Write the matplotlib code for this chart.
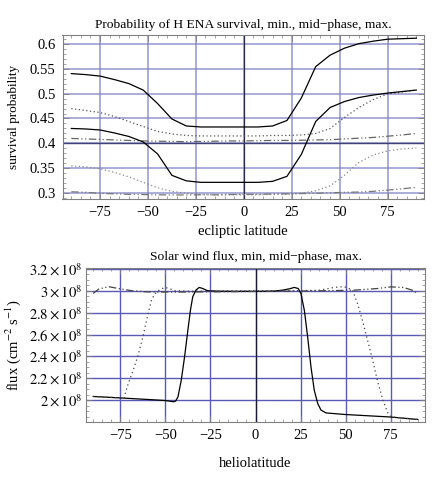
import matplotlib
matplotlib.use("Agg")
import matplotlib.pyplot as plt
from matplotlib.ticker import FixedLocator, MultipleLocator, FuncFormatter

plt.rcParams['font.family'] = ['Liberation Serif', 'DejaVu Serif']
plt.rcParams['mathtext.fontset'] = 'stix'

# --- top panel: survival probability vs ecliptic latitude (7.5 deg steps)
lat = [-90, -82.5, -75, -67.5, -60, -52.5, -45, -37.5, -30, -22.5, -15, -7.5, 0,
       7.5, 15, 22.5, 30, 37.5, 45, 52.5, 60, 67.5, 75, 82.5, 90]

surv_hi_min = [0.540, 0.538, 0.535, 0.528, 0.520, 0.507, 0.480, 0.449, 0.435, 0.433, 0.433, 0.433, 0.433,
               0.433, 0.435, 0.446, 0.491, 0.554, 0.577, 0.591, 0.600, 0.605, 0.609, 0.610, 0.611]
surv_hi_mid = [0.470, 0.466, 0.462, 0.454, 0.444, 0.434, 0.424, 0.419, 0.416, 0.415, 0.415, 0.415, 0.415,
               0.415, 0.416, 0.416, 0.417, 0.420, 0.430, 0.452, 0.472, 0.488, 0.499, 0.503, 0.507]
surv_hi_max = [0.410, 0.409, 0.408, 0.407, 0.406, 0.405, 0.4045, 0.404, 0.4035, 0.404, 0.4045, 0.405, 0.405,
               0.4055, 0.406, 0.406, 0.4065, 0.407, 0.4075, 0.409, 0.4105, 0.412, 0.4145, 0.417, 0.420]
surv_lo_min = [0.430, 0.429, 0.427, 0.421, 0.414, 0.403, 0.379, 0.336, 0.325, 0.322, 0.322, 0.322, 0.322,
               0.322, 0.324, 0.334, 0.378, 0.444, 0.472, 0.484, 0.492, 0.497, 0.501, 0.504, 0.507]
surv_lo_mid = [0.355, 0.353, 0.349, 0.342, 0.333, 0.322, 0.311, 0.304, 0.300, 0.298, 0.297, 0.297, 0.297,
               0.297, 0.298, 0.298, 0.300, 0.305, 0.315, 0.336, 0.362, 0.377, 0.385, 0.389, 0.391]
surv_lo_max = [0.303, 0.302, 0.300, 0.299, 0.298, 0.2975, 0.297, 0.2968, 0.2966, 0.297, 0.297, 0.2975, 0.298,
               0.298, 0.2985, 0.299, 0.2995, 0.300, 0.301, 0.302, 0.3025, 0.304, 0.3065, 0.309, 0.312]

# --- bottom panel: solar wind flux (units of 1e8 cm^-2 s^-1)
min_lat = [-90, -75, -60, -50, -47, -45.5, -44.3, -43, -41.2, -39.3, -37.5, -36.1, -34.8, -33, -31.2, -29.3,
           -26.6, -20, -10, 0, 10, 15, 19, 21.5, 23.7, 25.2, 27.1, 28.9, 30.8, 32.6, 34.5, 36.3, 39.1,
           49.2, 60, 74.4, 90]
min_flux = [2.034, 2.021, 2.007, 1.997, 1.99, 1.986, 1.992, 2.03, 2.18, 2.40, 2.64, 2.82, 2.945, 3.006,
            3.03, 3.02, 3.0, 2.995, 2.994, 2.994, 2.996, 3.005, 3.018, 3.03, 3.02, 2.975, 2.82, 2.58,
            2.30, 2.09, 1.97, 1.91, 1.884, 1.87, 1.86, 1.847, 1.824]

mid_lat = [-90, -75, -73, -70.6, -67.9, -65.1, -62.3, -59.6, -57.7, -55.9, -54, -50.4, -47.7, -44.9,
           -35, -20, 0, 20, 35, 43.6, 49.2, 53.8, 56.6, 59.3, 62.1, 64.9, 67.6, 70.4, 73.2, 75, 76, 90]
mid_flux = [2.034, 2.021, 2.02, 2.15, 2.27, 2.41, 2.59, 2.79, 2.915, 2.97, 3.0, 3.03, 3.02, 3.0,
            2.995, 2.998, 3.0, 3.0, 3.003, 3.03, 3.037, 3.006, 2.88, 2.73, 2.55, 2.37, 2.18, 2.015,
            1.89, 1.85, 1.847, 1.824]

max_lat = [-90, -87, -81.5, -76, -68.7, -61.3, -54, -40, -20, 0, 20, 40, 55, 67.6, 75, 82, 86.7, 89.5, 90]
max_flux = [2.975, 3.015, 3.037, 3.02, 3.0, 2.99, 2.988, 2.988, 2.99, 2.993, 2.996, 3.0, 3.005, 3.02,
            3.035, 3.03, 3.006, 2.98, 2.975]

xticks = [-75, -50, -25, 0, 25, 50, 75]

grid_col = '#7c7cc4'
frame_col = '#808080'


def fmt_num(v, pos=None):
    return ('%g' % v).replace('-', '\u2212')


def style_frame(ax):
    for s in ax.spines.values():
        s.set_color(frame_col)
        s.set_linewidth(0.8)
    ax.tick_params(which='both', direction='in', top=True, right=True,
                   color=frame_col, labelsize=10.5)
    ax.tick_params(which='major', length=4, width=0.6, pad=5)
    ax.tick_params(which='minor', length=2, width=0.5)


fig = plt.figure(figsize=(4.36, 4.8), dpi=100)

# top panel
ax1 = fig.add_axes([62.5 / 436, 1 - 199 / 480, 361.5 / 436, 164.3 / 480])
ax1.plot(lat, surv_hi_min, color='black', lw=0.9)
ax1.plot(lat, surv_hi_mid, color='#555555', lw=0.9, linestyle=(0, (1, 2)))
ax1.plot(lat, surv_hi_max, color='#666666', lw=0.9, linestyle=(0, (6, 2, 1, 2, 1, 2)))
ax1.plot(lat, surv_lo_min, color='black', lw=0.9)
ax1.plot(lat, surv_lo_mid, color='#8a8a8a', lw=0.9, linestyle=(0, (1, 2)))
ax1.plot(lat, surv_lo_max, color='#777777', lw=0.9, linestyle=(0, (6, 2, 1, 2, 1, 2)))
ax1.set_xlim(-94.6, 94.0)
ax1.set_ylim(0.2886, 0.618)
ax1.xaxis.set_major_locator(FixedLocator(xticks))
ax1.xaxis.set_minor_locator(MultipleLocator(5))
ax1.yaxis.set_major_locator(FixedLocator([0.3, 0.35, 0.4, 0.45, 0.5, 0.55, 0.6]))
ax1.yaxis.set_minor_locator(MultipleLocator(0.01))
ax1.xaxis.set_major_formatter(FuncFormatter(fmt_num))
ax1.yaxis.set_major_formatter(FuncFormatter(fmt_num))
ax1.grid(True, which='major', color=grid_col, lw=1.1, alpha=0.8, zorder=0)
ax1.axvline(0, color='#2a2a40', lw=0.9, zorder=1)
ax1.axhline(0.4, color='#40407a', lw=1.0, zorder=1)
ax1.set_axisbelow(True)
style_frame(ax1)
ax1.set_title('Probability of H ENA survival, min., mid\u2212phase, max.', fontsize=9.7, pad=5)
ax1.set_xlabel('ecliptic latitude', fontsize=10.5, labelpad=4)
ax1.set_ylabel('survival probability', fontsize=9.5)
ax1.yaxis.set_label_coords(-0.118, 0.5)

# bottom panel
ax2 = fig.add_axes([86 / 436, 1 - 421.7 / 480, 339 / 436, 153.4 / 480])
ax2.plot(min_lat, min_flux, color='black', lw=0.9)
ax2.plot(mid_lat, mid_flux, color='#444444', lw=0.9, linestyle=(0, (1, 2.5)))
ax2.plot(max_lat, max_flux, color='#444444', lw=0.9, linestyle=(0, (6, 2, 1, 2, 1, 2)))
ax2.set_xlim(-94.0, 94.0)
ax2.set_ylim(1.8037, 3.2046)
ax2.xaxis.set_major_locator(FixedLocator(xticks))
ax2.xaxis.set_minor_locator(MultipleLocator(5))
ax2.yaxis.set_major_locator(FixedLocator([2.0, 2.2, 2.4, 2.6, 2.8, 3.0, 3.2]))
ax2.yaxis.set_minor_locator(MultipleLocator(0.05))
ax2.xaxis.set_major_formatter(FuncFormatter(fmt_num))
ax2.yaxis.set_major_formatter(FuncFormatter(lambda v, p: r'$%g\times10^{8}$' % v))
ax2.grid(True, which='major', color='#5a5ab4', lw=1.0, zorder=0)
ax2.axvline(0, color='#1a1a30', lw=0.9, zorder=1)
ax2.set_axisbelow(True)
style_frame(ax2)
ax2.tick_params(axis='y', which='major', pad=2.5)
ax2.set_title('Solar wind flux, min, mid\u2212phase, max.', fontsize=9.7, pad=6)
ax2.set_xlabel('heliolatitude', fontsize=10.5, labelpad=11)
ax2.set_ylabel(r'flux (cm$^{-2}$ s$^{-1}$)', fontsize=10.5)
ax2.yaxis.set_label_coords(-0.185, 0.5)

fig.savefig('out.png', dpi=100)
